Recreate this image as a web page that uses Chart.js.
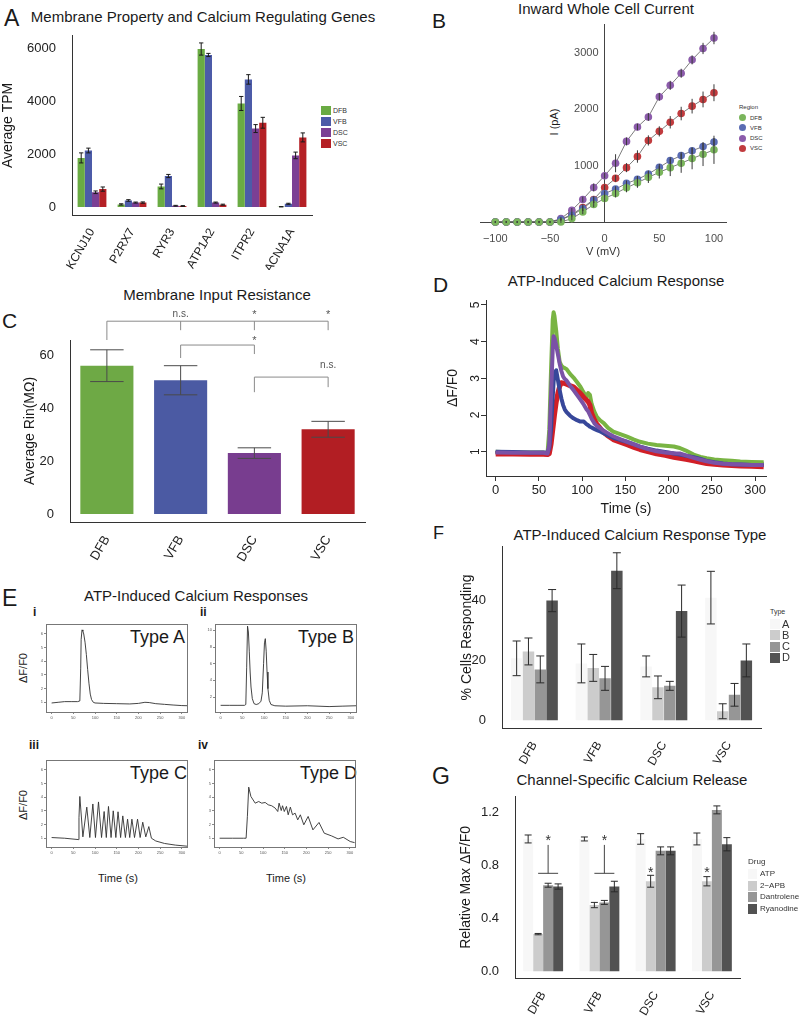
<!DOCTYPE html>
<html>
<head>
<meta charset="utf-8">
<script src="https://cdn.jsdelivr.net/npm/chart.js@4.4.0/dist/chart.umd.min.js"></script>
<style>
  body { margin: 0; background: #fff; font-family: "Liberation Sans", Arial, sans-serif; }
  #fig { position: relative; width: 800px; height: 1016px; overflow: hidden; }
  .t { position: absolute; white-space: nowrap; color: #1a1a1a; line-height: 1; }
  .c { transform: translateX(-50%); }
  .r { transform: translate(-50%, -50%) rotate(-90deg); }
  .b { font-weight: bold; }
  .sw { position: absolute; }
  canvas { position: absolute; }
</style>
</head>
<body>
<div id="fig">
  <!-- panel letters and titles -->
  <div class="t" style="left:4px;top:7px;font-size:23px">A</div>
  <div class="t c" style="left:203px;top:9px;font-size:15px">Membrane Property and Calcium Regulating Genes</div>
  <div class="t" style="left:432px;top:10px;font-size:21px">B</div>
  <div class="t c" style="left:606px;top:1px;font-size:15px">Inward Whole Cell Current</div>
  <div class="t" style="left:2px;top:310px;font-size:21px">C</div>
  <div class="t c" style="left:217px;top:287px;font-size:15px">Membrane Input Resistance</div>
  <div class="t" style="left:433px;top:274px;font-size:21px">D</div>
  <div class="t c" style="left:616px;top:273px;font-size:15px">ATP-Induced Calcium Response</div>
  <div class="t" style="left:2px;top:587px;font-size:23px">E</div>
  <div class="t c" style="left:196px;top:588px;font-size:15px">ATP-Induced Calcium Responses</div>
  <div class="t" style="left:433px;top:524px;font-size:18px">F</div>
  <div class="t c" style="left:640px;top:527px;font-size:15px">ATP-Induced Calcium Response Type</div>
  <div class="t" style="left:432px;top:765px;font-size:23px">G</div>
  <div class="t c" style="left:632px;top:772px;font-size:15px">Channel-Specific Calcium Release</div>

  <!-- panel E labels -->
  <div class="t b" style="left:33px;top:606px;font-size:12px">i</div>
  <div class="t b" style="left:200px;top:606px;font-size:12px">ii</div>
  <div class="t b" style="left:29px;top:739px;font-size:12px">iii</div>
  <div class="t b" style="left:198px;top:739px;font-size:12px">iv</div>
  <div class="t" style="left:130px;top:628px;font-size:18px">Type A</div>
  <div class="t" style="left:298px;top:628px;font-size:18px">Type B</div>
  <div class="t" style="left:130px;top:764px;font-size:18px">Type C</div>
  <div class="t" style="left:300px;top:764px;font-size:18px">Type D</div>
  <div class="t r" style="left:23px;top:668px;font-size:11px">ΔF/F0</div>
  <div class="t r" style="left:23px;top:805px;font-size:11px">ΔF/F0</div>
  <div class="t c" style="left:118px;top:873px;font-size:11px">Time (s)</div>
  <div class="t c" style="left:286px;top:873px;font-size:11px">Time (s)</div>

  <!-- panel B axis title -->
  <div class="t r" style="left:554px;top:122px;font-size:11px">I (pA)</div>

  <canvas id="cA" width="315" height="250" style="left:0px;top:20px"></canvas>
  <canvas id="cB" width="300" height="246" style="left:430px;top:15px"></canvas>
  <canvas id="cC" width="368" height="272" style="left:0px;top:300px"></canvas>
  <canvas id="cD" width="334" height="233" style="left:440px;top:288px"></canvas>
  <canvas id="cE1" width="166" height="107" style="left:26px;top:618px"></canvas>
  <canvas id="cE2" width="166" height="107" style="left:195px;top:618px"></canvas>
  <canvas id="cE3" width="166" height="106" style="left:26px;top:754px"></canvas>
  <canvas id="cE4" width="166" height="106" style="left:194px;top:754px"></canvas>
  <canvas id="cF" width="324" height="237" style="left:440px;top:531px"></canvas>
  <canvas id="cG" width="303" height="235" style="left:440px;top:781px"></canvas>
</div>

<script>
// ---- A: gene expression (TPM)
const genes = ["KCNJ10", "P2RX7", "RYR3", "ATP1A2", "ITPR2", "CACNA1A"];
const regions = ["DFB", "VFB", "DSC", "VSC"];
const tpmDFB = [1860, 100, 780, 5980, 3920, 12];
const tpmVFB = [2140, 250, 1175, 5755, 4830, 124];
const tpmDSC = [560, 170, 50, 170, 2970, 1955];
const tpmVSC = [680, 170, 40, 90, 3190, 2636];
const tpmDFBErr = [190, 25, 90, 230, 265, 5];
const tpmVFBErr = [90, 30, 60, 60, 180, 20];
const tpmDSCErr = [50, 20, 15, 20, 150, 125];
const tpmVSCErr = [80, 25, 15, 20, 205, 170];
const tpmTicks = [0, 2000, 4000, 6000];

// ---- B: I-V curves
const voltage = [-100, -90, -80, -70, -60, -50, -40, -30, -20, -10, 0, 10, 20, 30, 40, 50, 60, 70, 80, 90, 100];
const ivDFB = [0, 0, 0, 0, 0, 0, 0, 60, 179, 310, 417, 506, 607, 696, 792, 881, 964, 1042, 1125, 1202, 1280];
const ivVFB = [0, 0, 0, 0, 0, 0, 42, 119, 238, 387, 506, 583, 685, 756, 851, 970, 1089, 1179, 1262, 1339, 1417];
const ivDSC = [0, 0, 0, 0, 0, 0, 60, 208, 400, 613, 821, 1042, 1429, 1685, 1863, 2220, 2423, 2637, 2875, 3077, 3262];
const ivVSC = [0, 0, 0, 0, 0, 0, 42, 137, 256, 399, 613, 774, 964, 1161, 1446, 1607, 1768, 1923, 2054, 2173, 2292];
const ivDFBErr = [10, 10, 10, 10, 10, 10, 15, 30, 40, 50, 60, 70, 80, 90, 100, 110, 150, 170, 190, 210, 250];
const ivVFBErr = [10, 10, 10, 10, 10, 10, 20, 30, 40, 50, 50, 50, 50, 60, 60, 60, 60, 60, 60, 70, 70];
const ivDSCErr = [10, 10, 10, 10, 10, 10, 30, 40, 50, 70, 50, 160, 70, 60, 70, 70, 80, 80, 80, 100, 110];
const ivVSCErr = [10, 10, 10, 10, 10, 10, 20, 40, 60, 60, 50, 60, 80, 110, 90, 90, 110, 120, 130, 140, 150];
const voltTicks = [-100, -50, 0, 50, 100];
const currentTicks = [1000, 2000, 3000];

// ---- C: input resistance
const rinMean = [56, 50.5, 23, 32];
const rinErr = [6, 5.5, 2, 3];
const rinTicks = [0, 20, 40, 60];
const rinBrackets = [
  { from: 0, to: 3, level: 72.8, drops: [[0, 65.7], [1, 69.4], [2, 69.4], [3, 69.4]] },
  { from: 1, to: 2, level: 63.8, drops: [[1, 58.9], [2, 60.4]] },
  { from: 2, to: 3, level: 51.7, drops: [[2, 46], [3, 47.9]] }
];
const rinMarks = [[1, 75.6, "n.s."], [2, 75.2, "*"], [3, 75.2, "*"], [2, 65.4, "*"], [3, 56.2, "n.s."]];

// ---- D: mean calcium traces
const timeD = [0, 20, 40, 55, 60, 62, 64, 66, 67, 68, 70, 72, 74, 76, 78, 80, 82, 86, 90, 94, 98, 102, 105, 107, 109, 111, 114, 117, 121, 125, 130, 136, 144, 152, 160, 167, 176, 186, 196, 206, 213, 220, 229, 237, 244, 253, 263, 273, 283, 296, 310];
const traceDFB = [1.0, 0.98, 0.98, 0.98, 0.96, 1.6, 3.2, 4.6, 4.8, 4.7, 4.3, 3.8, 3.45, 3.35, 3.3, 3.28, 3.25, 3.12, 3.02, 2.9, 2.77, 2.6, 2.5, 2.6, 2.55, 2.3, 2.1, 1.95, 1.85, 1.78, 1.65, 1.55, 1.48, 1.41, 1.33, 1.27, 1.22, 1.18, 1.16, 1.14, 1.1, 1.03, 0.92, 0.86, 0.82, 0.79, 0.77, 0.75, 0.73, 0.72, 0.71];
const traceDSC = [0.98, 0.97, 0.97, 0.97, 0.95, 1.2, 2.5, 3.8, 4.15, 4.1, 3.9, 3.65, 3.4, 3.2, 3.05, 2.98, 2.94, 2.8, 2.68, 2.55, 2.42, 2.28, 2.16, 2.1, 2.0, 1.9, 1.78, 1.7, 1.64, 1.57, 1.5, 1.42, 1.34, 1.27, 1.2, 1.14, 1.07, 1.01, 0.98, 0.96, 0.95, 0.9, 0.83, 0.78, 0.74, 0.7, 0.67, 0.66, 0.65, 0.64, 0.64];
const traceVFB = [1.0, 0.99, 0.98, 0.98, 0.97, 1.1, 1.6, 2.5, 2.9, 3.15, 3.22, 2.95, 2.68, 2.45, 2.27, 2.15, 2.08, 1.98, 1.91, 1.86, 1.82, 1.82, 1.75, 1.72, 1.68, 1.66, 1.62, 1.59, 1.55, 1.5, 1.44, 1.38, 1.32, 1.27, 1.2, 1.14, 1.08, 1.03, 0.99, 0.95, 0.92, 0.89, 0.85, 0.8, 0.75, 0.71, 0.68, 0.66, 0.65, 0.64, 0.64];
const traceVSC = [0.94, 0.94, 0.93, 0.93, 0.92, 0.95, 1.2, 1.6, 1.8, 2.0, 2.35, 2.6, 2.78, 2.88, 2.87, 2.86, 2.84, 2.8, 2.77, 2.68, 2.59, 2.48, 2.41, 2.36, 2.27, 2.05, 1.88, 1.75, 1.64, 1.52, 1.43, 1.33, 1.26, 1.19, 1.12, 1.06, 1.0, 0.94, 0.9, 0.85, 0.82, 0.79, 0.75, 0.71, 0.68, 0.66, 0.64, 0.62, 0.61, 0.6, 0.59];
const timeTicksD = [0, 50, 100, 150, 200, 250, 300];
const ratioTicksD = [1, 2, 3, 4, 5];

// ---- E: example single-cell traces
const tA = [0, 15, 30, 45, 60, 65, 67, 68, 70, 72, 74, 77, 80, 83, 86, 89, 92, 96, 100, 120, 150, 180, 200, 215, 225, 240, 260, 280, 300, 312];
const vA = [0.95, 1.0, 1.05, 1.05, 1.05, 1.1, 3.5, 5.6, 6.3, 6.2, 6.0, 5.4, 4.5, 3.4, 2.4, 1.6, 1.2, 1.0, 0.95, 0.92, 0.9, 0.88, 0.92, 1.0, 0.98, 0.9, 0.85, 0.8, 0.76, 0.75];
const tB = [0, 20, 40, 55, 58, 60, 62, 64, 66, 68, 70, 73, 77, 82, 88, 93, 96, 99, 101, 103, 105, 107, 109, 112, 116, 125, 150, 200, 250, 280, 312];
const vB = [1.0, 1.0, 1.0, 1.0, 1.1, 5.5, 10.5, 9.8, 7.5, 5.0, 3.2, 1.8, 1.2, 1.1, 1.2, 1.5, 2.5, 6.0, 8.5, 9.0, 7.5, 5.0, 3.0, 1.6, 1.1, 0.95, 0.9, 0.95, 0.85, 0.9, 0.95];
const tC = [0, 30, 62, 63, 65, 72, 81, 88, 95, 101, 108, 115, 121, 126, 131, 137, 142, 148, 153, 159, 164, 170, 175, 180, 185, 191, 198, 204, 210, 217, 224, 230, 240, 260, 285, 312];
const vC = [1.05, 1.0, 0.9, 2.5, 4.05, 1.1, 3.27, 1.05, 3.5, 1.05, 3.65, 1.05, 2.95, 1.05, 3.32, 1.05, 3.0, 1.05, 2.93, 1.05, 2.63, 1.05, 2.39, 1.05, 2.39, 1.05, 2.39, 1.05, 2.17, 1.1, 1.85, 1.0, 0.8, 0.62, 0.5, 0.42];
const tD = [0, 30, 55, 61, 64, 67, 72, 82, 90, 97, 105, 112, 120, 128, 134, 137, 142, 145, 149, 154, 158, 163, 168, 174, 180, 186, 194, 204, 215, 229, 241, 258, 273, 285, 301, 311];
const vD = [1.0, 1.0, 1.0, 1.0, 2.6, 4.73, 4.05, 3.56, 3.68, 3.56, 3.61, 3.44, 3.37, 3.2, 2.95, 3.56, 3.02, 3.37, 2.95, 3.32, 2.71, 3.27, 2.71, 2.83, 2.34, 2.71, 1.98, 2.59, 1.61, 2.15, 1.37, 1.17, 0.95, 1.07, 0.76, 0.68];
const traceTicksX = [0, 50, 100, 150, 200, 250, 300];
const traceTicksY = [1, 2, 3, 4, 5, 6];
const traceTicksYB = [2, 4, 6, 8, 10];

// ---- F: response types (% cells)
const typeA = [20.7, 19, 18, 41];
const typeB = [23, 17.5, 11, 3];
const typeC = [17, 14, 11.5, 8.5];
const typeD = [40, 50, 36.5, 20];
const typeAErr = [5.8, 6.5, 3.5, 8.8];
const typeBErr = [4.5, 4.5, 3.8, 2.5];
const typeCErr = [4.5, 4, 1.5, 3.8];
const typeDErr = [3.7, 6, 8.7, 5.5];
const pctTicks = [0, 20, 40];

// ---- G: drug block (relative max dF/F0)
const drugATP = [1.0, 1.0, 1.0, 1.0];
const drugAPB = [0.28, 0.5, 0.68, 0.68];
const drugDant = [0.65, 0.52, 0.91, 1.22];
const drugRyan = [0.64, 0.64, 0.91, 0.96];
const drugATPErr = [0.03, 0.015, 0.04, 0.045];
const drugAPBErr = [0.005, 0.02, 0.045, 0.035];
const drugDantErr = [0.015, 0.015, 0.03, 0.03];
const drugRyanErr = [0.02, 0.04, 0.03, 0.05];
const relTicks = [0, 0.4, 0.8, 1.2];
const sigGroupsG = [0, 1];
const sigSinglesG = [[2, 0.74], [3, 0.74]];

const colRegion = ["#6aab43", "#4c5ba8", "#7b3f94", "#b52025"];
const colRegionB = ["#7ab55c", "#5a6cb3", "#8c5cab", "#c13b3e"];
const greys = ["#f7f7f7", "#cccccc", "#969696", "#525252"];
const FONT = '"Liberation Sans", Arial, sans-serif';

Chart.defaults.font.family = FONT;
Chart.defaults.color = "#222";
Chart.defaults.animation = false;
Chart.defaults.responsive = false;
Chart.defaults.plugins.legend.display = false;
Chart.defaults.plugins.tooltip.enabled = false;

// error bars drawn from each dataset's "errors" array
const errorBars = {
  id: "errorBars",
  afterDatasetsDraw(chart, args, opts) {
    const ctx = chart.ctx;
    const y = chart.scales.y;
    chart.data.datasets.forEach((ds, i) => {
      if (!ds.errors) return;
      const meta = chart.getDatasetMeta(i);
      ctx.save();
      ctx.strokeStyle = ds.errorColor || opts.color || "#222";
      ctx.lineWidth = opts.lineWidth || 1;
      meta.data.forEach((el, j) => {
        const d = ds.data[j];
        const v = typeof d === "object" ? d.y : d;
        const e = ds.errors[j];
        const top = y.getPixelForValue(v + e);
        const bot = y.getPixelForValue(v - e);
        const half = (el.width || 0) * (opts.cap || 0) / 2;
        ctx.beginPath();
        ctx.moveTo(el.x, top);
        ctx.lineTo(el.x, bot);
        if (half > 0) {
          ctx.moveTo(el.x - half, top);
          ctx.lineTo(el.x + half, top);
          ctx.moveTo(el.x - half, bot);
          ctx.lineTo(el.x + half, bot);
        }
        ctx.stroke();
      });
      ctx.restore();
    });
  }
};

const boxFrame = {
  id: "boxFrame",
  afterDraw(chart) {
    const { ctx, chartArea: a } = chart;
    ctx.save();
    ctx.strokeStyle = "#777";
    ctx.lineWidth = 1;
    ctx.strokeRect(Math.round(a.left) + 0.5, Math.round(a.top) + 0.5, Math.round(a.width), Math.round(a.height));
    ctx.restore();
  }
};

const sigC = {
  id: "sigC",
  afterDraw(chart) {
    const { ctx } = chart;
    const x = chart.scales.x, y = chart.scales.y;
    ctx.save();
    ctx.strokeStyle = "#8a8a8a";
    ctx.lineWidth = 1;
    rinBrackets.forEach(b => {
      const yl = y.getPixelForValue(b.level);
      ctx.beginPath();
      ctx.moveTo(x.getPixelForValue(b.from), yl);
      ctx.lineTo(x.getPixelForValue(b.to), yl);
      b.drops.forEach(([i, v]) => {
        ctx.moveTo(x.getPixelForValue(i), yl);
        ctx.lineTo(x.getPixelForValue(i), y.getPixelForValue(v));
      });
      ctx.stroke();
    });
    ctx.fillStyle = "#555";
    ctx.textAlign = "center";
    ctx.textBaseline = "middle";
    rinMarks.forEach(([i, v, s]) => {
      ctx.font = (s === "*" ? "11px " : "10px ") + FONT;
      ctx.fillText(s, x.getPixelForValue(i), y.getPixelForValue(v));
    });
    ctx.restore();
  }
};

const sigG = {
  id: "sigG",
  afterDatasetsDraw(chart) {
    const { ctx } = chart;
    const y = chart.scales.y;
    const apb = chart.getDatasetMeta(1).data;
    const rya = chart.getDatasetMeta(3).data;
    ctx.save();
    ctx.strokeStyle = "#444";
    ctx.fillStyle = "#333";
    ctx.lineWidth = 1;
    ctx.font = "14px " + FONT;
    ctx.textAlign = "center";
    ctx.textBaseline = "middle";
    sigGroupsG.forEach(g => {
      const x0 = apb[g].x, x1 = rya[g].x, xm = (x0 + x1) / 2;
      const yb = y.getPixelForValue(0.74);
      ctx.beginPath();
      ctx.moveTo(x0, yb);
      ctx.lineTo(x1, yb);
      ctx.moveTo(xm, yb);
      ctx.lineTo(xm, y.getPixelForValue(0.955));
      ctx.stroke();
      ctx.fillText("*", xm, y.getPixelForValue(0.98));
    });
    sigSinglesG.forEach(([g, v]) => ctx.fillText("*", apb[g].x, y.getPixelForValue(v)));
    ctx.restore();
  }
};

const setTicks = arr => scale => { scale.ticks = arr.map(v => ({ value: v })); };

function catAxis(fontSize, height) {
  return {
    grid: { display: false },
    border: { color: "#333" },
    ticks: { minRotation: 60, maxRotation: 60, autoSkip: false, font: { size: fontSize }, color: "#222", padding: 3 },
    afterFit: s => { s.height = height; }
  };
}

function valAxis(min, max, ticks, width, title, titlePad, fmt) {
  return {
    min: min, max: max,
    afterBuildTicks: setTicks(ticks),
    grid: { display: false },
    border: { color: "#333" },
    ticks: { font: { size: 13 }, color: "#222", padding: 8, callback: fmt || (v => String(v)) },
    title: { display: true, text: title, font: { size: 14 }, color: "#1a1a1a", padding: { top: titlePad, bottom: 0 } },
    afterFit: s => { s.width = width; }
  };
}

// A
new Chart(document.getElementById("cA"), {
  type: "bar",
  data: {
    labels: genes,
    datasets: [
      { data: tpmDFB, errors: tpmDFBErr, backgroundColor: colRegion[0] },
      { data: tpmVFB, errors: tpmVFBErr, backgroundColor: colRegion[1] },
      { data: tpmDSC, errors: tpmDSCErr, backgroundColor: colRegion[2] },
      { data: tpmVSC, errors: tpmVSCErr, backgroundColor: colRegion[3] }
    ]
  },
  options: {
    layout: { padding: { top: 12, right: 3, left: 0, bottom: 0 } },
    datasets: { bar: { categoryPercentage: 0.72, barPercentage: 1.0 } },
    scales: {
      x: catAxis(12, 55),
      y: valAxis(-300, 6480, tpmTicks, 72, "Average TPM", 0)
    },
    plugins: { errorBars: { cap: 0.6, color: "#1a1a1a" } }
  },
  plugins: [errorBars]
});

// B
const ivSeries = [[ivDFB, ivDFBErr], [ivVFB, ivVFBErr], [ivDSC, ivDSCErr], [ivVSC, ivVSCErr]];
new Chart(document.getElementById("cB"), {
  type: "line",
  data: {
    datasets: ivSeries.map(([vals, errs], k) => ({
      data: voltage.map((v, i) => ({ x: v, y: vals[i] })),
      errors: errs,
      borderColor: "#5a5a5a",
      borderWidth: 0.8,
      pointRadius: 3.8,
      pointBackgroundColor: colRegionB[k],
      pointBorderWidth: 0,
      tension: 0,
      clip: false
    }))
  },
  options: {
    layout: { padding: { top: 7, right: 2, left: 50, bottom: 0 } },
    scales: {
      x: {
        type: "linear", min: -114, max: 111,
        afterBuildTicks: setTicks(voltTicks),
        grid: { display: false },
        border: { color: "#444" },
        ticks: { font: { size: 11 }, color: "#4d4d4d", padding: 2, callback: v => String(v).replace("-", "\u2212") },
        title: { display: true, text: "V (mV)", font: { size: 11 }, color: "#333", padding: { top: 0, bottom: 2 } },
        afterFit: s => { s.height = 39; }
      },
      y: {
        type: "linear", min: 0, max: 3500,
        position: { x: 0 },
        afterBuildTicks: setTicks(currentTicks),
        grid: { display: false },
        border: { color: "#444" },
        ticks: { font: { size: 11 }, color: "#4d4d4d", callback: v => String(v) + "  " }
      }
    },
    plugins: { errorBars: { cap: 0, color: "#3a3a3a" } }
  },
  plugins: [errorBars]
});

// C
new Chart(document.getElementById("cC"), {
  type: "bar",
  data: {
    labels: regions,
    datasets: [{ data: rinMean, errors: rinErr, backgroundColor: ["#6ea945", "#4b5aa3", "#783d8f", "#b21e23"] }]
  },
  options: {
    layout: { padding: { top: 40, right: 3, left: 0, bottom: 0 } },
    datasets: { bar: { categoryPercentage: 1.0, barPercentage: 0.72 } },
    scales: {
      x: catAxis(13, 50),
      y: valAxis(-3, 65.7, rinTicks, 70, "Average Rin(M\u03A9)", 22)
    },
    plugins: { errorBars: { cap: 0.63, color: "#4a4a4a" } }
  },
  plugins: [errorBars, sigC]
});

// D
const traceSets = [
  [traceDSC, "#7a52a6", "#3e2466", 4],
  [traceVFB, "#37479a", "#1c2666", 4],
  [traceVSC, "#d11f27", "#7a0d12", 5],
  [traceDFB, "#79b443", "#1c2a10", 4]
];
const dDatasets = [];
traceSets.forEach(([vals, band, line, w]) => {
  const pts = timeD.map((t, i) => ({ x: t, y: vals[i] }));
  dDatasets.push({ data: pts, borderColor: band, borderWidth: w, borderJoinStyle: "round", pointRadius: 0, tension: 0 });
  dDatasets.push({ data: pts, borderColor: line, borderWidth: 1, pointRadius: 0, tension: 0 });
});
new Chart(document.getElementById("cD"), {
  type: "line",
  data: { datasets: dDatasets },
  options: {
    layout: { padding: { top: 12, right: 8, left: 0, bottom: 0 } },
    scales: {
      x: {
        type: "linear", min: -11.2, max: 312.7,
        afterBuildTicks: setTicks(timeTicksD),
        grid: { drawOnChartArea: false, tickLength: 5, color: "#333" },
        border: { color: "#333" },
        ticks: { font: { size: 13 }, color: "#222", padding: 2, maxRotation: 0 },
        title: { display: true, text: "Time (s)", font: { size: 14 }, color: "#1a1a1a", padding: { top: 0, bottom: 3 } },
        afterFit: s => { s.height = 45; }
      },
      y: {
        min: 0.337, max: 5.136,
        afterBuildTicks: setTicks(ratioTicksD),
        grid: { drawOnChartArea: false, tickLength: 5, color: "#333" },
        border: { color: "#333" },
        ticks: { font: { size: 12 }, color: "#222", padding: 2, minRotation: 90, maxRotation: 90, crossAlign: "center" },
        title: { display: true, text: "\u0394F/F0", font: { size: 14 }, color: "#1a1a1a", padding: { top: 5, bottom: 0 } },
        afterFit: s => { s.width = 46; }
      }
    }
  }
});

// E
function traceChart(id, times, vals, yMin, yMax, yTicks) {
  return new Chart(document.getElementById(id), {
    type: "line",
    data: {
      datasets: [{
        data: times.map((t, i) => ({ x: t, y: vals[i] })),
        borderColor: "#303030", borderWidth: 0.9, pointRadius: 0, tension: 0
      }]
    },
    options: {
      layout: { padding: { top: 6, right: 5, left: 0, bottom: 0 } },
      scales: {
        x: {
          type: "linear", min: -13, max: 312,
          afterBuildTicks: setTicks(traceTicksX),
          grid: { drawOnChartArea: false, tickLength: 2, color: "#888" },
          border: { display: false },
          ticks: { font: { size: 4 }, color: "#555", padding: 1, maxRotation: 0, autoSkip: false },
          afterFit: s => { s.height = 13; }
        },
        y: {
          min: yMin, max: yMax,
          afterBuildTicks: setTicks(yTicks),
          grid: { drawOnChartArea: false, tickLength: 2, color: "#888" },
          border: { display: false },
          ticks: { font: { size: 4 }, color: "#555", padding: 1, autoSkip: false },
          afterFit: s => { s.width = 20; }
        }
      }
    },
    plugins: [boxFrame]
  });
}
traceChart("cE1", tA, vA, 0.29, 6.73, traceTicksY);
traceChart("cE2", tB, vB, 0.2, 10.76, traceTicksYB);
traceChart("cE3", tC, vC, 0.36, 6.71, traceTicksY);
traceChart("cE4", tD, vD, 0.36, 6.71, traceTicksY);

// F
new Chart(document.getElementById("cF"), {
  type: "bar",
  data: {
    labels: regions,
    datasets: [
      { data: typeA, errors: typeAErr, backgroundColor: greys[0] },
      { data: typeB, errors: typeBErr, backgroundColor: greys[1] },
      { data: typeC, errors: typeCErr, backgroundColor: greys[2] },
      { data: typeD, errors: typeDErr, backgroundColor: greys[3] }
    ]
  },
  options: {
    layout: { padding: { top: 12, right: 3, left: 0, bottom: 0 } },
    datasets: { bar: { categoryPercentage: 0.73, barPercentage: 0.97 } },
    scales: {
      x: catAxis(12, 40),
      y: valAxis(-2.6, 58, pctTicks, 62, "% Cells Responding", 19)
    },
    plugins: { errorBars: { cap: 0.7, color: "#2a2a2a" } }
  },
  plugins: [errorBars]
});

// G
new Chart(document.getElementById("cG"), {
  type: "bar",
  data: {
    labels: regions,
    datasets: [
      { data: drugATP, errors: drugATPErr, backgroundColor: greys[0] },
      { data: drugAPB, errors: drugAPBErr, backgroundColor: greys[1] },
      { data: drugDant, errors: drugDantErr, backgroundColor: greys[2] },
      { data: drugRyan, errors: drugRyanErr, backgroundColor: greys[3] }
    ]
  },
  options: {
    layout: { padding: { top: 12, right: 3, left: 0, bottom: 0 } },
    datasets: { bar: { categoryPercentage: 0.71, barPercentage: 1.0 } },
    scales: {
      x: catAxis(12, 38),
      y: valAxis(-0.052, 1.319, relTicks, 75, "Relative Max \u0394F/F0", 18, v => v.toFixed(1))
    },
    plugins: { errorBars: { cap: 0.7, color: "#2a2a2a" } }
  },
  plugins: [errorBars, sigG]
});

// legends (HTML)
function legend(x, y, title, labels, colors, opts) {
  const fig = document.getElementById("fig");
  if (title) {
    const t = document.createElement("div");
    t.className = "t";
    t.style.cssText = `left:${x}px;top:${y - opts.step}px;font-size:${opts.titleSize}px;color:#333`;
    t.textContent = title;
    fig.appendChild(t);
  }
  labels.forEach((lab, i) => {
    const cy = y + i * opts.step;
    const s = document.createElement("div");
    s.className = "sw";
    s.style.cssText = `left:${x}px;top:${cy}px;width:${opts.w}px;height:${opts.h}px;background:${colors[i]};` +
      (opts.round ? `border-radius:50%;` : ``);
    fig.appendChild(s);
    const t = document.createElement("div");
    t.className = "t";
    t.style.cssText = `left:${x + opts.w + opts.gap}px;top:${cy + opts.h / 2 - opts.size / 2}px;font-size:${opts.size}px;color:#333`;
    t.textContent = lab;
    fig.appendChild(t);
  });
}
legend(321, 106, null, regions, colRegion, { step: 11, w: 10, h: 9, gap: 2, size: 7, titleSize: 7 });
legend(739, 114, "Region", regions, colRegionB, { step: 10.3, w: 7, h: 7, gap: 4, size: 6, titleSize: 6, round: true });
legend(770, 619, "Type", ["A", "B", "C", "D"], greys, { step: 11.3, w: 10, h: 10, gap: 2, size: 11, titleSize: 7 });
legend(748, 869, "Drug", ["ATP", "2\u2212APB", "Dantrolene", "Ryanodine"], greys, { step: 11.5, w: 9, h: 10, gap: 3, size: 8, titleSize: 8 });
</script>
</body>
</html>
